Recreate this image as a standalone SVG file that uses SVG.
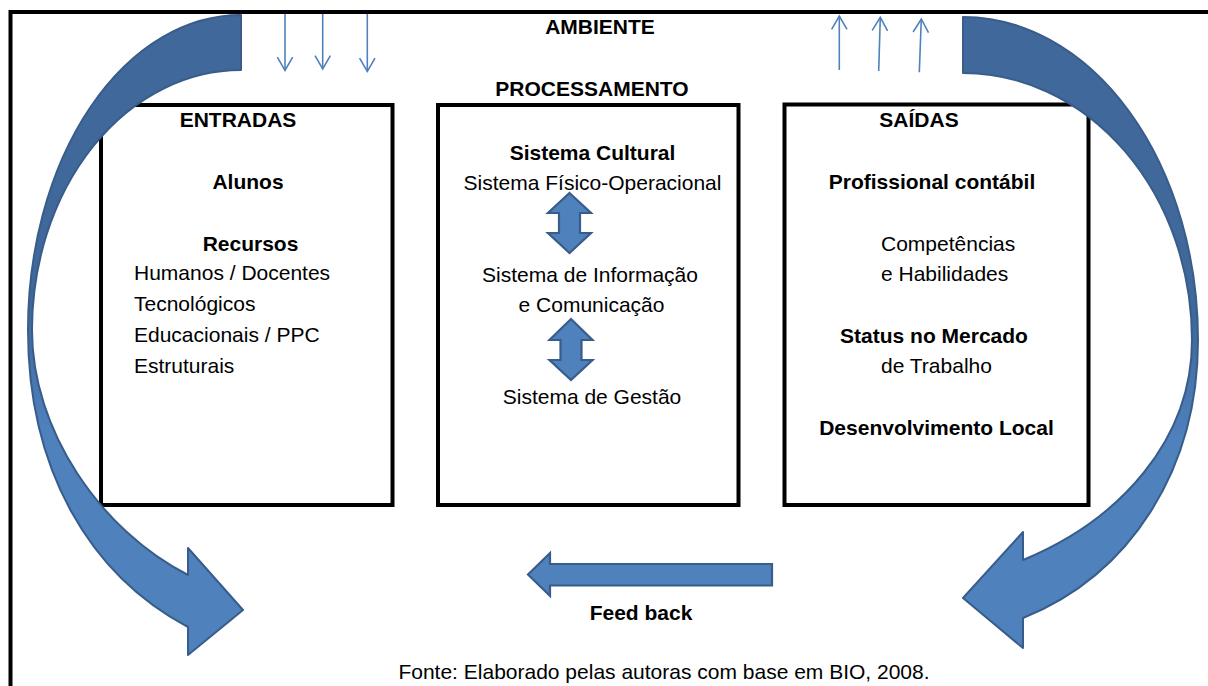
<svg xmlns="http://www.w3.org/2000/svg" width="1208" height="686" viewBox="0 0 1208 686">
<defs>
<style>
text{font-family:"Liberation Sans",Arial,sans-serif;font-size:21px;fill:#000}
.b{font-weight:bold}
.m{text-anchor:middle}
.box{fill:#fff;stroke:#000;stroke-width:4}
.big{stroke:#385d8a;stroke-width:2;stroke-linejoin:round}
.blk{fill:#4f81bd;stroke:#385d8a;stroke-width:2.2;stroke-linejoin:miter}
.thin{stroke:#4f81bd;stroke-width:1.6;fill:none;marker-end:url(#vhead)}
</style>
<marker id="vhead" markerUnits="userSpaceOnUse" viewBox="-16 -10 20 20" markerWidth="20" markerHeight="20" refX="0" refY="0" orient="auto" overflow="visible">
<path d="M-13.3,-7.7 L0,0 L-13.3,7.7" fill="none" stroke="#4f81bd" stroke-width="1.6"/>
</marker>
<linearGradient id="gl" gradientUnits="userSpaceOnUse" x1="0" y1="310" x2="0" y2="430">
<stop offset="0" stop-color="#40689a"/>
<stop offset="1" stop-color="#4f81bd"/>
</linearGradient>
<linearGradient id="gr" gradientUnits="userSpaceOnUse" x1="0" y1="320" x2="0" y2="440">
<stop offset="0" stop-color="#40689a"/>
<stop offset="1" stop-color="#4f81bd"/>
</linearGradient>
</defs>
<rect width="1208" height="686" fill="#fff"/>
<path id="ambiente-frame" d="M10.5,686 V12 H1208" fill="none" stroke="#000" stroke-width="4"/>
<g id="ambiente">
<text class="b m" x="600" y="34">AMBIENTE</text>
</g>
<g id="entradas">
<rect class="box" x="101" y="105" width="291.5" height="400"/>
<text class="b m" x="238" y="127">ENTRADAS</text>
<text class="b m" x="248" y="189">Alunos</text>
<text class="b m" x="250.5" y="251">Recursos</text>
<text x="134" y="280">Humanos / Docentes</text>
<text x="134" y="311">Tecnológicos</text>
<text x="134" y="342">Educacionais / PPC</text>
<text x="134" y="373">Estruturais</text>
</g>
<g id="processamento">
<text class="b m" x="592" y="96">PROCESSAMENTO</text>
<rect class="box" x="438" y="105" width="300.5" height="400"/>
<text class="b m" x="592.5" y="160">Sistema Cultural</text>
<text class="m" x="592.5" y="190">Sistema Físico-Operacional</text>
<text class="m" x="590" y="281.5">Sistema de Informação</text>
<text class="m" x="591.5" y="312">e Comunicação</text>
<text class="m" x="592" y="403.5">Sistema de Gestão</text>
</g>
<g id="saidas">
<rect class="box" x="784.5" y="104.5" width="304" height="400.5"/>
<text class="b m" x="919" y="127">SAÍDAS</text>
<text class="b m" x="932" y="189">Profissional contábil</text>
<text x="881" y="251">Competências</text>
<text x="881" y="281">e Habilidades</text>
<text class="b m" x="934" y="343">Status no Mercado</text>
<text x="881" y="373">de Trabalho</text>
<text class="b m" x="936.5" y="435">Desenvolvimento Local</text>
</g>
<g id="feedback-label">
<text class="b m" x="641" y="620">Feed back</text>
</g>
<g id="fonte">
<text class="m" x="664" y="679">Fonte: Elaborado pelas autoras com base em BIO, 2008.</text>
</g>
<g id="connectors">
<path id="arrow-left" class="big" fill="url(#gl)" d="M241,15 A213,315 0 0 0 28,330 C28,470 90,575 188,627 L188,655 L243,610 L188,548 L188,575 C100,530 32,430 32,330 A209,260 0 0 1 241,70 Z"/>
<path id="arrow-right" class="big" fill="url(#gr)" d="M963,17 A235,323 0 0 1 1198,340 C1198,470 1130,575 1023,618 L1023,648 L963,598 L1023,532 L1023,560 C1120,520 1192,440 1192,340 A229,267 0 0 0 963,73 Z"/>
<path id="arrow-cult-info" class="blk" d="M569.5,193 L591,213 L580,213 L580,233 L591,233 L569.5,253 L548,233 L559,233 L559,213 L548,213 Z"/>
<path id="arrow-info-gestao" class="blk" d="M571,319 L592.5,340 L581.5,340 L581.5,360 L592.5,360 L571,380 L549.5,360 L560.5,360 L560.5,340 L549.5,340 Z"/>
<path id="arrow-feedback" class="blk" d="M772,564 L550,564 L550,553 L528,574.5 L550,596 L550,585.5 L772,585.5 Z"/>
<line class="thin" x1="285" y1="14" x2="285" y2="70.5"/>
<line class="thin" x1="322.7" y1="14" x2="322.7" y2="69"/>
<line class="thin" x1="367.3" y1="14" x2="367.3" y2="71.5"/>
<line class="thin" x1="839.3" y1="70" x2="839.3" y2="16"/>
<line class="thin" x1="878.7" y1="71" x2="880.3" y2="17.3"/>
<line class="thin" x1="919.3" y1="72.3" x2="921.3" y2="19"/>
</g>
</svg>
